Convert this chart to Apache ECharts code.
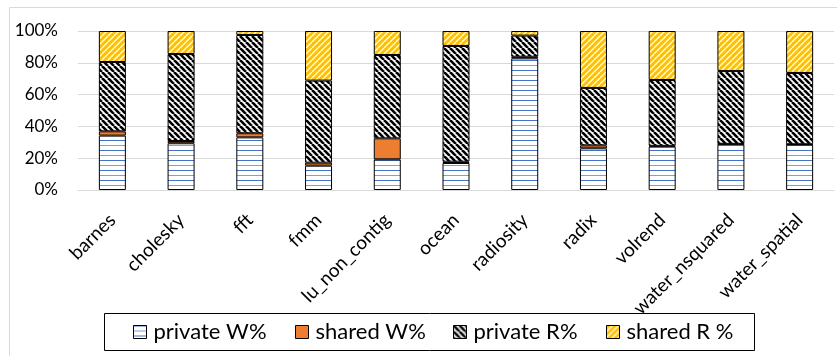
<!DOCTYPE html>
<html>
<head>
<meta charset="utf-8">
<script src="https://cdn.jsdelivr.net/npm/echarts@6/dist/echarts.min.js"></script>
<style>
  html, body { margin: 0; padding: 0; background: #fff; }
  #chart { width: 837px; height: 356px; }
</style>
</head>
<body>
<div id="chart"></div>
<script>
// Benchmarks and the split of memory accesses (percent of total)
const categories = ['barnes', 'cholesky', 'fft', 'fmm', 'lu_non_contig', 'ocean',
  'radiosity', 'radix', 'volrend', 'water_nsquared', 'water_spatial'];
const privateW = [34.2, 29.4, 33.1, 15.3, 19.3, 17.0, 82.8, 26.2, 27.3, 28.7, 28.5];
const sharedW  = [2.7, 1.4, 2.6, 1.9, 13.2, 0.8, 1.0, 1.9, 0.5, 0.3, 0.3];
const privateR = [43.6, 54.7, 61.8, 51.6, 52.4, 72.8, 13.3, 36.1, 41.4, 45.8, 44.8];
const sharedR  = [19.5, 14.5, 2.5, 31.2, 15.1, 9.4, 2.9, 35.8, 30.8, 25.2, 26.4];
const seriesNames = ['private W%', 'shared W%', 'private R%', 'shared R %'];
const yTicks = [0, 20, 40, 60, 80, 100];

const FONT = 'Lato, "Open Sans", sans-serif';

// Horizontal blue lines on white
function hLines() {
  const c = document.createElement('canvas');
  c.width = 8; c.height = 10;
  const g = c.getContext('2d');
  g.fillStyle = '#fff'; g.fillRect(0, 0, 8, 10);
  g.fillStyle = '#4472C4'; g.fillRect(0, 0, 8, 1);
  g.fillStyle = '#7F9FD6'; g.fillRect(0, 5, 8, 1);
  return c;
}

// Diagonal stripes; dir 1 = "\" , dir -1 = "/"
function diag(bg, fg, lw, dir) {
  const s = 6;
  const c = document.createElement('canvas');
  c.width = s; c.height = s;
  const g = c.getContext('2d');
  g.fillStyle = bg; g.fillRect(0, 0, s, s);
  g.strokeStyle = fg; g.lineWidth = lw;
  for (let k = -1; k <= 1; k++) {
    g.beginPath();
    if (dir > 0) { g.moveTo(k * s, 0); g.lineTo(k * s + s, s); }
    else { g.moveTo(k * s, s); g.lineTo(k * s + s, 0); }
    g.stroke();
  }
  return c;
}

const fills = [
  { image: hLines(), repeat: 'repeat' },
  '#ED7D31',
  { image: diag('#ffffff', '#000000', 2.6, 1), repeat: 'repeat' },
  { image: diag('#FFC000', '#ffffff', 1.3, -1), repeat: 'repeat' }
];
const values = [privateW, sharedW, privateR, sharedR];

// One legend entry per component so each sits at its own x
const legendX = [133, 295, 453, 606];

const chart = echarts.init(document.getElementById('chart'), null, { renderer: 'canvas' });
chart.setOption({
  animation: false,
  backgroundColor: '#fff',
  graphic: [
    { type: 'rect', shape: { x: 9.5, y: 7.5, width: 900, height: 400 },
      style: { fill: 'none', stroke: '#d9d9d9', lineWidth: 1 }, silent: true },
    { type: 'rect', shape: { x: 104.5, y: 313.5, width: 650, height: 37 },
      style: { fill: '#fff', stroke: '#000', lineWidth: 1 }, silent: true, z: 5 }
  ],
  grid: { left: 78, right: 3, top: 31, bottom: 166, containLabel: false },
  legend: seriesNames.map((name, i) => ({
    data: [name],
    left: legendX[i], top: 321,
    padding: 0,
    itemWidth: 13, itemHeight: 13,
    icon: 'rect',
    itemStyle: { borderColor: '#000', borderWidth: 1 },
    textStyle: { fontFamily: FONT, fontSize: 22, color: '#000', padding: [0, 0, 0, 2] },
    z: 10
  })),
  xAxis: {
    type: 'category',
    data: categories,
    axisLine: { lineStyle: { color: '#d9d9d9' } },
    axisTick: { show: false },
    axisLabel: { rotate: 45, interval: 0, margin: 27, fontFamily: FONT, fontSize: 19, color: '#000' }
  },
  yAxis: {
    type: 'value',
    min: yTicks[0], max: yTicks[yTicks.length - 1], interval: 20,
    axisLine: { show: false },
    axisTick: { show: false },
    splitLine: { lineStyle: { color: '#d9d9d9' } },
    axisLabel: { formatter: '{value}%', margin: 20, fontFamily: FONT, fontSize: 17, color: '#000' }
  },
  series: seriesNames.map((name, i) => ({
    name,
    type: 'bar',
    stack: 'total',
    barWidth: 27,
    data: values[i],
    itemStyle: { color: fills[i], borderColor: '#000', borderWidth: 1 }
  }))
});
</script>
</body>
</html>
